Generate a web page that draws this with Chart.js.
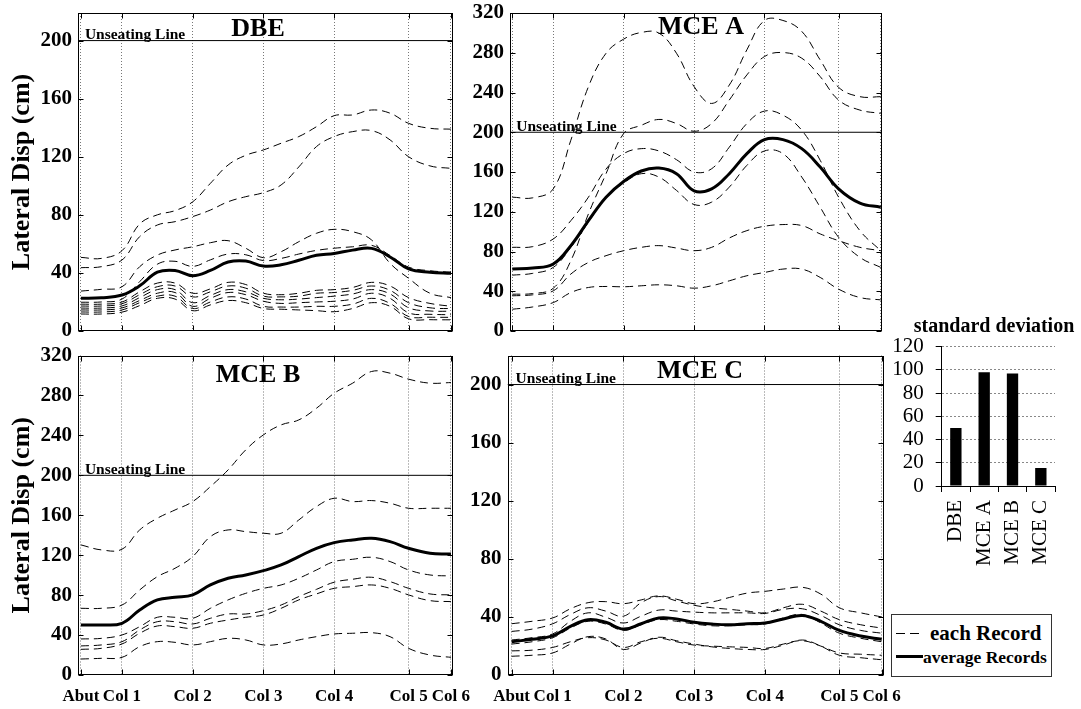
<!DOCTYPE html>
<html><head><meta charset="utf-8">
<script src="https://cdn.jsdelivr.net/npm/chart.js@4.4.0/dist/chart.umd.min.js"></script>
<style>
html,body{margin:0;padding:0;background:#fff;}
body{width:1081px;height:709px;position:relative;overflow:hidden;font-family:'Liberation Serif','Times New Roman',serif;}
canvas{position:absolute;}
#legend{position:absolute;left:891px;top:614px;width:159px;height:61px;border:1px solid #333;background:#fff;}
#legend .d{position:absolute;height:1px;width:9px;background:#000;top:18px;}
#legend .s{position:absolute;height:3px;width:27px;background:#000;left:4px;top:40px;}
#legend .t1{position:absolute;left:38px;top:7px;font:bold 21px/22px 'Liberation Serif',serif;white-space:nowrap;}
#legend .t2{position:absolute;left:31px;top:32px;font:bold 17.5px/20px 'Liberation Serif',serif;white-space:nowrap;}
</style></head>
<body>
<canvas id="cDBE" width="470" height="345" style="left:0;top:0"></canvas>
<canvas id="cA" width="420" height="345" style="left:470px;top:0"></canvas>
<canvas id="cB" width="470" height="364" style="left:0;top:345px"></canvas>
<canvas id="cC" width="440" height="364" style="left:470px;top:345px"></canvas>
<canvas id="cSD" width="201" height="275" style="left:880px;top:305px"></canvas>
<div id="legend">
  <div class="d" style="left:4px"></div><div class="d" style="left:18px"></div>
  <div class="t1">each Record</div>
  <div class="s"></div>
  <div class="t2">average Records</div>
</div>
<script>
// ---------- DATA ----------
const X_POS = [0, 0.5, 1, 1.43, 1.86, 2.29, 2.72, 3.15, 3.58, 4.01, 4.44, 4.87, 5.30, 5.73, 6.16, 6.61, 7.07, 7.52, 7.97, 8.49, 9.0];
const COL_POS = [0, 1, 2.72, 4.44, 6.16, 7.97, 9.0];
const COL_LABELS = ['Abut', 'Col 1', 'Col 2', 'Col 3', 'Col 4', 'Col 5', 'Col 6'];
const UNSEATING = 200;
const Y_TICKS_200 = [0, 40, 80, 120, 160, 200];
const Y_TICKS_320 = [0, 40, 80, 120, 160, 200, 240, 280, 320];

const DBE_R1 = [50.7, 50.0, 55.3, 73.7, 80.0, 82.9, 89.0, 101.7, 114.3, 121.0, 124.7, 129.3, 133.9, 140.7, 148.3, 148.8, 152.2, 150.0, 143.0, 139.6, 139.0];
const DBE_R2 = [43.6, 44.3, 48.9, 65.0, 73.0, 75.3, 78.8, 83.3, 89.0, 92.5, 95.3, 100.6, 113.0, 127.0, 133.9, 137.3, 138.0, 131.6, 120.0, 113.7, 112.0];
const DBE_R3 = [27.5, 28.7, 30.5, 44.3, 52.3, 55.8, 58.0, 60.8, 62.2, 57.0, 50.5, 54.6, 61.5, 67.3, 70.0, 68.4, 62.7, 46.6, 36.3, 26.0, 23.0];
const DBE_R4 = [19.8, 20.0, 22.0, 34.0, 46.0, 48.0, 44.5, 49.0, 53.0, 52.5, 48.5, 50.0, 53.0, 55.5, 57.0, 58.0, 59.0, 52.0, 44.0, 41.5, 40.5];
const DBE_R5 = [18.5, 18.5, 20.0, 27.0, 33.0, 33.0, 26.0, 29.0, 33.5, 32.0, 26.0, 25.0, 26.0, 28.0, 28.5, 30.0, 33.5, 31.0, 23.0, 19.0, 17.0];
const DBE_R6 = [17.2, 17.2, 18.8, 25.0, 30.5, 31.0, 23.5, 27.0, 31.0, 29.5, 24.0, 23.5, 24.0, 26.0, 26.5, 28.0, 31.0, 28.0, 19.5, 16.0, 15.4];
const DBE_R7 = [15.8, 15.8, 17.3, 23.0, 28.5, 28.5, 19.5, 24.5, 28.5, 27.0, 22.5, 21.5, 22.0, 23.0, 24.0, 25.5, 28.5, 25.5, 16.0, 13.8, 13.6];
const DBE_R8 = [14.5, 14.5, 15.9, 21.0, 26.0, 26.5, 17.0, 22.5, 26.5, 25.0, 20.5, 19.0, 19.5, 20.0, 20.5, 22.0, 26.0, 22.5, 12.5, 11.5, 11.2];
const DBE_R9 = [13.1, 13.1, 14.5, 19.5, 24.0, 24.0, 15.5, 20.0, 23.5, 22.0, 17.0, 16.5, 16.5, 17.0, 17.0, 18.5, 22.5, 19.0, 10.0, 9.5, 9.4];
const DBE_R10 = [11.7, 11.7, 13.0, 17.5, 22.5, 22.0, 14.0, 18.0, 21.0, 19.5, 15.5, 15.0, 14.5, 14.0, 13.3, 15.5, 19.5, 17.0, 8.4, 7.8, 7.7];
const DBE_AVG = [22.5, 22.9, 24.8, 31.1, 40.5, 41.7, 38.1, 41.7, 47.5, 48.2, 44.7, 45.6, 48.7, 52.2, 53.4, 55.7, 56.9, 51.0, 42.8, 40.5, 39.8];

const A_R1 = [134.7, 134.0, 143.0, 192.0, 245.9, 279.5, 293.7, 300.4, 299.8, 279.5, 246.0, 229.0, 247.5, 283.0, 312.5, 312.5, 301.5, 272.8, 245.2, 235.8, 235.8];
const A_R2 = [37.0, 37.7, 43.0, 70.7, 117.9, 158.3, 198.7, 207.0, 212.9, 208.8, 201.0, 208.8, 232.4, 257.7, 276.2, 280.2, 274.5, 256.0, 232.4, 222.3, 219.0];
const A_R3 = [84.2, 84.9, 92.6, 111.0, 134.7, 163.0, 178.5, 183.5, 181.2, 172.4, 160.0, 163.3, 185.0, 208.8, 221.3, 217.2, 202.0, 171.8, 134.7, 101.0, 80.8];
const A_R4 = [56.2, 58.0, 64.0, 84.2, 109.5, 134.7, 148.9, 158.3, 154.9, 141.5, 127.3, 129.7, 144.8, 166.7, 181.2, 178.5, 154.9, 124.6, 94.3, 74.1, 64.0];
const A_R5 = [35.4, 36.4, 40.4, 57.3, 69.0, 75.8, 80.8, 84.2, 85.9, 83.5, 80.8, 84.2, 93.6, 101.0, 105.4, 107.1, 106.1, 97.7, 90.9, 84.2, 80.8];
const A_R6 = [21.9, 24.2, 28.6, 38.7, 43.8, 44.8, 44.5, 45.5, 46.5, 45.5, 43.1, 45.5, 50.5, 55.6, 58.9, 62.3, 62.3, 53.9, 42.1, 33.7, 31.3];
const A_AVG = [62.3, 63.3, 67.4, 85.9, 111.1, 134.7, 150.5, 161.0, 164.0, 158.3, 141.0, 143.0, 158.3, 178.5, 192.6, 192.6, 183.5, 165.0, 143.1, 128.7, 124.6];

const B_R1 = [130.3, 125.3, 126.0, 145.3, 157.0, 165.3, 173.7, 188.7, 205.4, 225.5, 240.5, 250.5, 255.5, 267.2, 282.2, 292.3, 304.0, 302.3, 296.3, 292.3, 292.9];
const B_R2 = [66.8, 66.8, 70.1, 85.2, 98.5, 106.9, 118.6, 138.6, 145.3, 143.6, 142.0, 142.0, 155.3, 168.7, 177.0, 173.7, 174.7, 172.0, 167.0, 167.0, 167.0];
const B_R3 = [36.1, 36.7, 40.1, 48.4, 57.8, 57.8, 56.8, 66.8, 75.2, 81.8, 86.8, 90.2, 96.9, 105.2, 113.6, 115.9, 117.9, 113.6, 105.2, 100.2, 99.2];
const B_R4 = [29.1, 30.1, 33.4, 45.1, 53.4, 53.4, 51.1, 56.8, 61.1, 61.1, 64.5, 70.1, 78.5, 85.8, 92.9, 95.9, 97.9, 93.5, 86.8, 81.2, 80.2];
const B_R5 = [25.7, 26.7, 31.1, 41.8, 49.1, 48.4, 46.8, 51.8, 55.1, 57.8, 60.1, 66.8, 75.2, 81.2, 86.8, 88.5, 90.2, 86.8, 80.2, 74.5, 73.5];
const B_R6 = [16.0, 16.7, 17.7, 28.4, 33.4, 32.7, 30.1, 33.4, 36.7, 35.1, 30.1, 31.1, 35.1, 38.4, 41.1, 41.8, 42.4, 38.4, 26.7, 20.0, 17.7];
const B_AVG = [50.1, 50.1, 51.8, 65.1, 75.2, 77.8, 80.2, 90.2, 96.9, 100.2, 104.5, 110.2, 118.6, 126.9, 132.6, 135.3, 136.9, 133.6, 126.9, 121.9, 121.2];

const C_R1 = [35.3, 37.0, 39.3, 45.6, 49.8, 50.5, 49.1, 51.7, 54.5, 52.2, 49.1, 50.3, 53.4, 56.4, 57.6, 59.2, 60.4, 55.7, 46.3, 42.8, 40.0];
const C_R2 = [30.0, 31.6, 35.3, 41.7, 46.3, 44.0, 40.5, 49.8, 54.0, 51.0, 48.0, 46.3, 45.2, 44.0, 42.8, 46.3, 48.7, 44.0, 38.1, 34.6, 32.3];
const C_R3 = [24.1, 25.7, 28.3, 37.0, 42.8, 39.8, 35.8, 40.5, 44.7, 44.0, 43.3, 42.8, 42.8, 42.8, 42.4, 45.2, 45.6, 41.0, 34.6, 30.7, 28.8];
const C_R4 = [21.3, 22.9, 25.7, 32.3, 37.0, 35.1, 30.7, 34.6, 38.1, 37.0, 35.1, 33.9, 33.9, 34.6, 35.1, 39.3, 41.7, 35.8, 28.8, 25.3, 22.9];
const C_R5 = [16.6, 17.1, 19.0, 22.9, 25.7, 24.1, 19.0, 22.9, 25.3, 22.9, 20.6, 19.9, 19.4, 19.0, 18.3, 21.3, 23.6, 19.9, 15.2, 14.3, 13.6];
const C_R6 = [12.9, 13.6, 15.2, 21.3, 26.4, 24.8, 17.6, 22.2, 26.0, 23.6, 21.3, 19.4, 18.3, 17.6, 17.6, 20.6, 24.1, 19.9, 13.6, 11.9, 10.5];
const C_AVG = [22.9, 24.6, 26.9, 33.5, 38.1, 36.3, 31.6, 35.3, 39.3, 38.6, 36.3, 35.1, 34.6, 35.3, 35.8, 38.6, 41.0, 37.0, 30.7, 26.9, 24.6];

const SD_LABELS = ['DBE', 'MCE A', 'MCE B', 'MCE C'];
const SD_VALUES = [50, 98, 97, 15.5];
const SD_TICK_STEP = 20;

// ---------- RENDER ----------
const FONT = "'Liberation Serif', 'Times New Roman', serif";

const panelDecor = {
  id: 'panelDecor',
  afterDatasetsDraw(chart, args, o) {
    const {ctx, chartArea: a, scales: {x, y}} = chart;
    const L = Math.round(a.left) + 0.5, R = Math.round(a.right) - 0.5;
    const T = Math.round(a.top) + 0.5, B = Math.round(a.bottom) - 0.5;
    ctx.save();
    ctx.strokeStyle = '#000'; ctx.lineWidth = 1; ctx.setLineDash([]);
    ctx.strokeRect(L, T, R - L, B - T);
    ctx.beginPath();
    y.ticks.forEach(t => {
      const py = Math.round(y.getPixelForValue(t.value)) + 0.5;
      ctx.moveTo(L, py); ctx.lineTo(L + 5, py);
      ctx.moveTo(R, py); ctx.lineTo(R - 5, py);
    });
    x.ticks.forEach(t => {
      const px = Math.round(x.getPixelForValue(t.value)) + 0.5;
      ctx.moveTo(px, B); ctx.lineTo(px, B - 5);
      ctx.moveTo(px, T); ctx.lineTo(px, T + 5);
    });
    ctx.stroke();
    ctx.fillStyle = '#000';
    ctx.font = 'bold 15.5px ' + FONT;
    ctx.textAlign = 'left'; ctx.textBaseline = 'alphabetic';
    ctx.fillText('Unseating Line', x.getPixelForValue(COL_POS[0]) + 4, y.getPixelForValue(UNSEATING) - 1.5);
    ctx.font = 'bold 26px ' + FONT;
    ctx.textAlign = 'center'; ctx.textBaseline = 'middle';
    ctx.fillText(o.title, o.titleX, a.top + o.titleDy);
    ctx.restore();
  }
};

function mkData(vals) { return vals.map((v, i) => ({x: X_POS[i], y: v})); }

function makePanel(P) {
  const datasets = P.records.map(r => ({
    data: mkData(r), borderColor: '#000', borderWidth: 1, borderDash: [8, 5],
    pointRadius: 0, tension: 0.4, fill: false
  }));
  datasets.push({data: mkData(P.avg), borderColor: '#000', borderWidth: 3, pointRadius: 0, tension: 0.4, fill: false});
  datasets.push({data: [{x: P.xMin, y: UNSEATING}, {x: P.xMax, y: UNSEATING}], borderColor: '#000', borderWidth: 1, pointRadius: 0, tension: 0, fill: false});
  new Chart(document.getElementById(P.id), {
    type: 'line',
    data: {datasets},
    plugins: [panelDecor],
    options: {
      responsive: false, animation: false, devicePixelRatio: 1,
      layout: {padding: {top: P.padTop, right: P.padRight, left: 0, bottom: 0}},
      plugins: {legend: {display: false}, tooltip: {enabled: false},
        panelDecor: {title: P.title, titleX: P.titleX, titleDy: P.titleDy}},
      scales: {
        x: {
          type: 'linear', min: P.xMin, max: P.xMax,
          afterBuildTicks: s => { s.ticks = COL_POS.map(v => ({value: v})); },
          afterFit: s => { s.height = P.xAxisH; s.paddingLeft = 0; s.paddingRight = 0; },
          grid: {color: '#777', lineWidth: 1, drawTicks: false},
          border: {display: false, dash: [1, 2]},
          ticks: {display: P.xLabels, autoSkip: false, maxRotation: 0, minRotation: 0, padding: 11, color: '#000',
            font: {family: FONT, size: 17, weight: 'bold'}, callback: (v, i) => COL_LABELS[i]}
        },
        y: {
          type: 'linear', min: 0, max: P.yMax,
          afterBuildTicks: s => { s.ticks = P.yTicks.map(v => ({value: v})); },
          afterFit: s => { s.width = P.yAxisW; s.paddingTop = 0; s.paddingBottom = 0; },
          grid: {display: false, drawTicks: false},
          border: {display: false},
          ticks: {padding: 6, autoSkip: false, color: '#000', font: {family: FONT, size: 21, weight: 'bold'}},
          title: {display: P.yTitle, text: 'Lateral Disp (cm)', color: '#000',
            font: {family: FONT, size: 26, weight: 'bold'}, padding: {top: 7, bottom: 0}}
        }
      }
    }
  });
}

makePanel({id: 'cDBE', title: 'DBE', titleX: 258, titleDy: 16,
  records: [DBE_R1, DBE_R2, DBE_R3, DBE_R4, DBE_R5, DBE_R6, DBE_R7, DBE_R8, DBE_R9, DBE_R10], avg: DBE_AVG,
  yMax: 219, yTicks: Y_TICKS_200, xMin: -0.07, xMax: 9.05,
  padTop: 13, padRight: 17, yAxisW: 78, xAxisH: 14, yTitle: true, xLabels: false});
makePanel({id: 'cA', title: 'MCE A', titleX: 231, titleDy: 14,
  records: [A_R1, A_R2, A_R3, A_R4, A_R5, A_R6], avg: A_AVG,
  yMax: 320, yTicks: Y_TICKS_320, xMin: -0.056, xMax: 9.03,
  padTop: 13, padRight: 8, yAxisW: 40, xAxisH: 14, yTitle: false, xLabels: false});
makePanel({id: 'cB', title: 'MCE B', titleX: 258, titleDy: 20,
  records: [B_R1, B_R2, B_R3, B_R4, B_R5, B_R6], avg: B_AVG,
  yMax: 320, yTicks: Y_TICKS_320, xMin: -0.07, xMax: 9.05,
  padTop: 10.5, padRight: 17, yAxisW: 78, xAxisH: 34, yTitle: true, xLabels: true});
makePanel({id: 'cC', title: 'MCE C', titleX: 230, titleDy: 16,
  records: [C_R1, C_R2, C_R3, C_R4, C_R5, C_R6], avg: C_AVG,
  yMax: 220, yTicks: Y_TICKS_200, xMin: -0.1, xMax: 9.056,
  padTop: 10.5, padRight: 26, yAxisW: 37.5, xAxisH: 34, yTitle: false, xLabels: true});

const sdTitle = {
  id: 'sdTitle',
  afterDraw(chart) {
    const ctx = chart.ctx;
    ctx.save();
    ctx.fillStyle = '#000';
    ctx.font = 'bold 20px ' + FONT;
    ctx.textAlign = 'center'; ctx.textBaseline = 'middle';
    ctx.fillText('standard deviation', 114, 22);
    ctx.restore();
  }
};

new Chart(document.getElementById('cSD'), {
  type: 'bar',
  data: {labels: SD_LABELS, datasets: [{data: SD_VALUES, backgroundColor: '#000', borderWidth: 0, barPercentage: 0.4, categoryPercentage: 1}]},
  plugins: [sdTitle],
  options: {
    responsive: false, animation: false, devicePixelRatio: 1,
    layout: {padding: {top: 41.7, right: 26, left: 0, bottom: 0}},
    plugins: {legend: {display: false}, tooltip: {enabled: false}},
    scales: {
      x: {
        afterFit: s => { s.height = 94; s.paddingLeft = 0; s.paddingRight = 0; },
        grid: {offset: true, drawOnChartArea: false, drawTicks: true, tickLength: 6, color: '#000'},
        border: {display: true, color: '#000'},
        ticks: {minRotation: 90, maxRotation: 90, autoSkip: false, padding: 8, color: '#000', font: {family: FONT, size: 21}}
      },
      y: {
        min: 0, max: 120,
        afterFit: s => { s.width = 61.7; s.paddingTop = 0; s.paddingBottom = 0; },
        ticks: {stepSize: SD_TICK_STEP, autoSkip: false, padding: 12, color: '#000', font: {family: FONT, size: 21}},
        grid: {color: '#888', tickColor: '#000', tickLength: 6, drawTicks: true},
        border: {display: true, color: '#000', dash: [2, 2]}
      }
    }
  }
});
</script>
</body></html>
